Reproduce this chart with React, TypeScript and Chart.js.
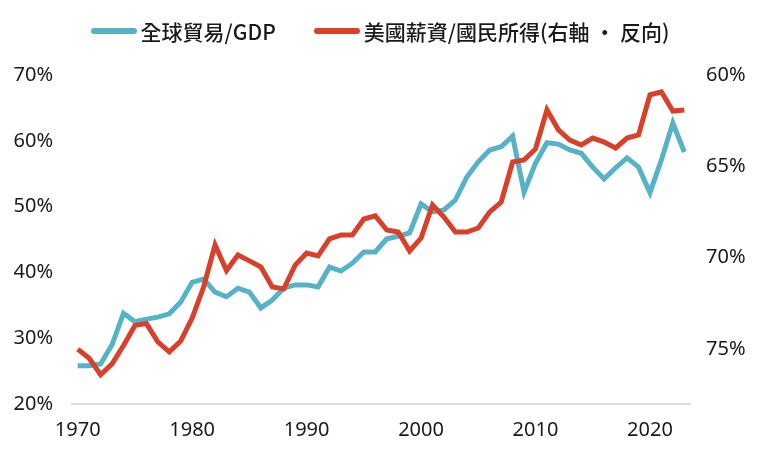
import React, { useEffect, useRef } from "react";
import { Chart, registerables } from "chart.js";

Chart.register(...registerables);

const years: number[] = [];
for (let y = 1970; y <= 2023; y++) years.push(y);

const tradeGdp = [
  25.8, 25.8, 26.1, 29.0, 33.8, 32.5, 32.9, 33.2, 33.7, 35.5,
  38.5, 39.0, 37.0, 36.3, 37.6, 37.0, 34.6, 35.8, 37.6, 38.1,
  38.1, 37.8, 40.8, 40.2, 41.4, 43.1, 43.1, 45.1, 45.5, 46.0,
  50.4, 49.2, 49.5, 51.0, 54.5, 56.8, 58.6, 59.1, 60.7, 52.2,
  56.6, 59.7, 59.5, 58.6, 58.1, 56.0, 54.2, 55.9, 57.4, 56.0,
  52.1, 57.1, 62.7, 58.3,
];

const wageShare = [
  75.0, 75.5, 76.4, 75.8, 74.8, 73.7, 73.6, 74.6, 75.15, 74.55,
  73.3, 71.6, 69.3, 70.7, 69.85, 70.17, 70.5, 71.6, 71.7, 70.4,
  69.74, 69.9, 68.97, 68.75, 68.75, 67.88, 67.71, 68.48, 68.59, 69.63,
  68.92, 67.11, 67.77, 68.59, 68.59, 68.37, 67.49, 66.95, 64.76, 64.65,
  64.05, 61.91, 63.0, 63.56, 63.83, 63.45, 63.67, 63.99, 63.45, 63.28,
  61.09, 60.93, 61.97, 61.91,
];

const seriesNames = ["全球貿易/GDP", "美國薪資/國民所得(右軸 · 反向)"];
const BLUE = "#56b3c7";
const RED = "#d9402a";

export default function App() {
  const ref = useRef<HTMLCanvasElement | null>(null);

  useEffect(() => {
    if (!ref.current) return;
    const tickFont = { family: "'Noto Sans', 'Open Sans', sans-serif", size: 20 };
    const chart = new Chart(ref.current, {
      type: "line",
      data: {
        labels: years.map(String),
        datasets: [
          {
            label: seriesNames[0],
            data: tradeGdp,
            borderColor: BLUE,
            backgroundColor: BLUE,
            borderWidth: 5,
            pointRadius: 0,
            tension: 0,
            yAxisID: "y",
            order: 2,
          },
          {
            label: seriesNames[1],
            data: wageShare,
            borderColor: RED,
            backgroundColor: RED,
            borderWidth: 5,
            pointRadius: 0,
            tension: 0,
            yAxisID: "y1",
            order: 1,
          },
        ],
      },
      options: {
        animation: false,
        responsive: false,
        maintainAspectRatio: false,
        layout: { padding: { top: 75, left: 0, right: 0, bottom: 0 } },
        plugins: { legend: { display: false }, tooltip: { enabled: false } },
        scales: {
          x: {
            type: "category",
            offset: true,
            grid: { display: false, drawTicks: false },
            border: { display: true, color: "#dedede", width: 2 },
            ticks: {
              autoSkip: false,
              maxRotation: 0,
              padding: 14,
              color: "#1a1a1a",
              font: tickFont,
              callback: (_v: any, i: number) => (years[i] % 10 === 0 ? String(years[i]) : ""),
            },
            afterFit: (s: any) => {
              s.height = 52;
            },
          },
          y: {
            position: "left",
            min: 20,
            max: 70,
            grid: { display: false, drawTicks: false },
            border: { display: false },
            ticks: {
              stepSize: 10,
              padding: 19,
              color: "#1a1a1a",
              font: tickFont,
              callback: (v: any) => v + "%",
            },
            afterFit: (s: any) => {
              s.width = 72;
            },
          },
          y1: {
            position: "right",
            reverse: true,
            min: 60,
            max: 78,
            grid: { display: false, drawTicks: false },
            border: { display: false },
            ticks: {
              stepSize: 5,
              padding: 16,
              color: "#1a1a1a",
              font: tickFont,
              callback: (v: any) => v + "%",
            },
            afterBuildTicks: (s: any) => {
              s.ticks = s.ticks.filter((t: any) => t.value % 5 === 0);
            },
            afterFit: (s: any) => {
              s.width = 70;
            },
          },
        },
      },
    });
    return () => chart.destroy();
  }, []);

  const legendItem = (name: string, color: string) => (
    <div style={{ display: "flex", alignItems: "center" }}>
      <div
        style={{
          width: 46,
          height: 6,
          borderRadius: 3,
          background: color,
          marginRight: 4,
        }}
      />
      <span>{name}</span>
    </div>
  );

  return (
    <div
      style={{
        position: "fixed",
        left: 0,
        top: 0,
        width: 760,
        height: 456,
        background: "#fff",
      }}
    >
      <canvas ref={ref} width={760} height={456} style={{ position: "absolute", left: 0, top: 0 }} />
      <div
        style={{
          position: "absolute",
          left: 0,
          top: 17,
          width: 760,
          display: "flex",
          justifyContent: "center",
          gap: 38,
          fontFamily: "'Noto Sans CJK TC', 'Noto Sans', sans-serif",
          fontSize: 21,
          fontWeight: 500,
          lineHeight: "28px",
          color: "#1a1a1a",
        }}
      >
        {legendItem(seriesNames[0], BLUE)}
        {legendItem(seriesNames[1], RED)}
      </div>
    </div>
  );
}
